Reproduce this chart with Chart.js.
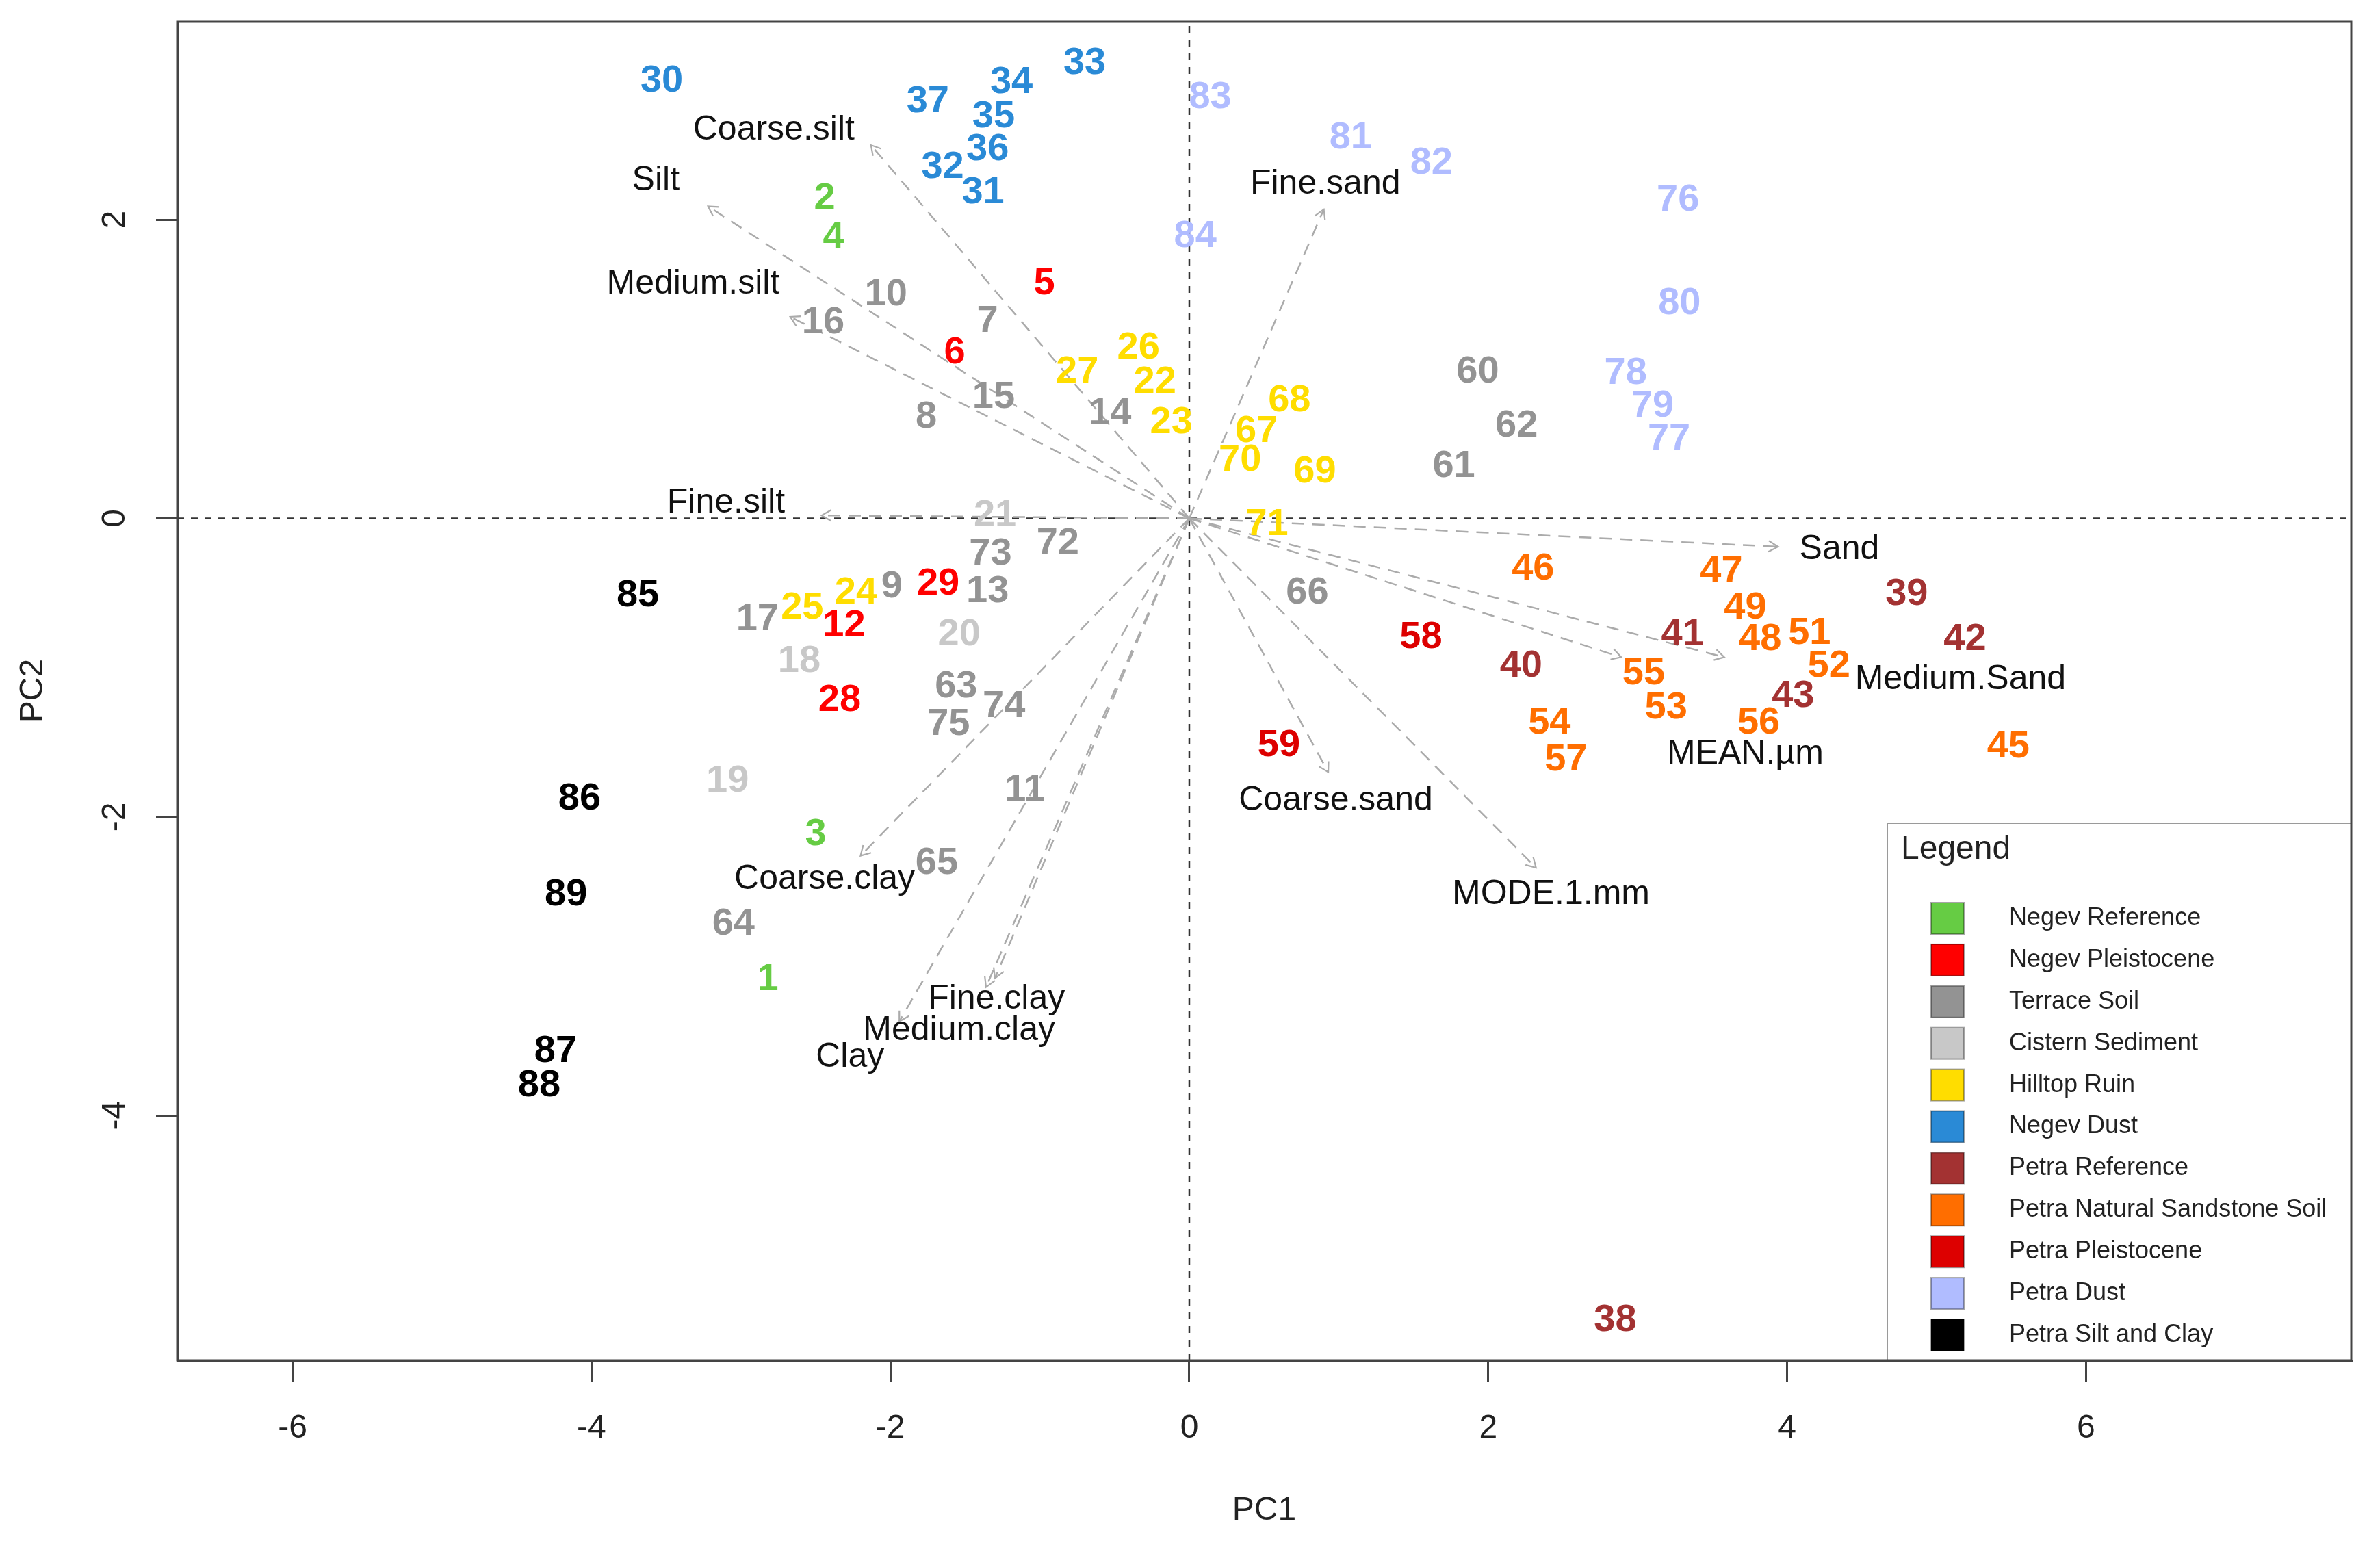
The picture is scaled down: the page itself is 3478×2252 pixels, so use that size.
<!DOCTYPE html>
<html><head><meta charset="utf-8">
<script src="https://cdn.jsdelivr.net/npm/chart.js@4.4.1/dist/chart.umd.min.js"></script>
<style>html,body{margin:0;padding:0;background:#fff;}canvas{display:block;}</style>
</head><body>
<canvas id="c" width="3478" height="2252"></canvas>
<script>
// ---------- data ----------
const groupNames = ['Negev Reference','Negev Pleistocene','Terrace Soil','Cistern Sediment','Hilltop Ruin','Negev Dust','Petra Reference','Petra Natural Sandstone Soil','Petra Pleistocene','Petra Dust','Petra Silt and Clay'];
const groupColors = ['#66CC44','#FF0000','#939393','#C8C8C8','#FFDD00','#2A8AD6','#A33232','#FF6E00','#DD0000','#B0BCFF','#000000'];

const sampleIds = [1,2,3,4,5,6,7,8,9,10,11,12,13,14,15,16,17,18,19,20,21,22,23,24,25,26,27,28,29,30,31,32,33,34,35,36,37,38,39,40,41,42,43,45,46,47,48,49,51,52,53,54,55,56,57,58,59,60,61,62,63,64,65,66,67,68,69,70,71,72,73,74,75,76,77,78,79,80,81,82,83,84,85,86,87,88,89];
const samplePC1 = [-2.82,-2.44,-2.50,-2.38,-0.97,-1.57,-1.35,-1.76,-1.99,-2.03,-1.10,-2.31,-1.35,-0.53,-1.31,-2.45,-2.89,-2.61,-3.09,-1.54,-1.30,-0.23,-0.12,-2.23,-2.59,-0.34,-0.75,-2.34,-1.68,-3.53,-1.38,-1.65,-0.70,-1.19,-1.31,-1.35,-1.75,2.85,4.80,2.22,3.30,5.19,4.04,5.48,2.30,3.56,3.82,3.72,4.15,4.28,3.19,2.41,3.04,3.81,2.52,1.55,0.60,1.93,1.77,2.19,-1.56,-3.05,-1.69,0.79,0.45,0.67,0.84,0.34,0.52,-0.88,-1.33,-1.24,-1.61,3.27,3.21,2.92,3.10,3.28,1.08,1.62,0.14,0.04,-3.69,-4.08,-4.24,-4.35,-4.17];
const samplePC2 = [-3.09,2.14,-2.12,1.88,1.57,1.11,1.32,0.68,-0.46,1.50,-1.82,-0.72,-0.49,0.70,0.81,1.31,-0.68,-0.96,-1.76,-0.78,0.02,0.91,0.64,-0.50,-0.60,1.14,0.98,-1.22,-0.44,2.93,2.18,2.35,3.05,2.92,2.69,2.47,2.79,-5.37,-0.51,-0.99,-0.78,-0.81,-1.19,-1.53,-0.34,-0.36,-0.81,-0.60,-0.77,-0.99,-1.27,-1.37,-1.04,-1.37,-1.62,-0.80,-1.52,0.98,0.35,0.62,-1.13,-2.72,-2.31,-0.50,0.58,0.79,0.31,0.39,-0.04,-0.17,-0.24,-1.26,-1.38,2.13,0.53,0.97,0.75,1.44,2.55,2.38,2.82,1.89,-0.52,-1.88,-3.57,-3.80,-2.52];
const sampleGroup = [0,0,0,0,1,1,2,2,2,2,2,1,2,2,2,2,2,3,3,3,3,4,4,4,4,4,4,1,1,5,5,5,5,5,5,5,5,6,6,6,6,6,6,7,7,7,7,7,7,7,7,7,7,7,7,8,8,2,2,2,2,2,2,2,4,4,4,4,4,2,2,2,2,9,9,9,9,9,9,9,9,9,10,10,10,10,10];

const varNames = ['Coarse.silt','Silt','Medium.silt','Fine.silt','Fine.sand','Sand','Medium.Sand','MEAN.µm','MODE.1.mm','Coarse.sand','Coarse.clay','Medium.clay','Fine.clay','Clay'];
const varTipX = [-2.13,-3.22,-2.67,-2.46,0.90,3.94,3.58,2.89,2.32,0.93,-2.20,-1.94,-1.36,-1.30];
const varTipY = [2.50,2.09,1.35,0.02,2.07,-0.19,-0.93,-0.93,-2.34,-1.70,-2.26,-3.37,-3.14,-3.08];
const varLabelX = [-2.78,-3.57,-3.32,-3.10,0.91,4.35,5.16,3.72,2.42,0.98,-2.44,-1.54,-1.29,-2.27];
const varLabelY = [2.60,2.26,1.57,0.10,2.24,-0.21,-1.08,-1.58,-2.52,-1.89,-2.42,-3.43,-3.22,-3.61];

const xTickValues = [-6,-4,-2,0,2,4,6];
const yTickValues = [-4,-2,0,2];
const xRange = [-6.772, 7.775];
const yRange = [-5.64, 3.33];

// ---------- build datasets ----------
const FONT = '"Liberation Sans", Arial, Helvetica, sans-serif';
const datasets = [];
datasets.push({kind:'ref', data:[{x:xRange[0],y:0},{x:xRange[1],y:0}], showLine:true, borderColor:'#333', borderWidth:2.5, borderDash:[10,10], pointRadius:0, order:10});
datasets.push({kind:'ref', data:[{x:0,y:yRange[0]},{x:0,y:yRange[1]}], showLine:true, borderColor:'#333', borderWidth:2.5, borderDash:[10,10], pointRadius:0, order:10});
varNames.forEach((n,i)=>{
  datasets.push({kind:'arrow', label:n, data:[{x:0,y:0},{x:varTipX[i],y:varTipY[i]}], showLine:true, borderColor:'#ABABAB', borderWidth:2.5, borderDash:[18,12], pointRadius:0, order:5});
});
datasets.push({kind:'varlabel', data:varNames.map((n,i)=>({x:varLabelX[i],y:varLabelY[i]})), texts:varNames, pointRadius:0, showLine:false, order:1});
groupNames.forEach((g,gi)=>{
  const idx = sampleIds.map((id,i)=>i).filter(i=>sampleGroup[i]===gi);
  datasets.push({kind:'sample', label:g, color:groupColors[gi], data:idx.map(i=>({x:samplePC1[i],y:samplePC2[i]})), texts:idx.map(i=>String(sampleIds[i])), pointRadius:0, showLine:false, order:0});
});

const textPlugin = {
  id:'texts',
  afterDatasetsDraw(chart){
    const ctx = chart.ctx;
    ctx.save();
    chart.data.datasets.forEach((ds,di)=>{
      const meta = chart.getDatasetMeta(di);
      if (ds.kind==='arrow'){
        const p0 = meta.data[0], p1 = meta.data[1];
        const ang = Math.atan2(p1.y-p0.y, p1.x-p0.x);
        const L = 16, a = Math.PI/6;
        ctx.setLineDash([]);
        ctx.strokeStyle = ds.borderColor; ctx.lineWidth = 2.2;
        ctx.beginPath();
        ctx.moveTo(p1.x - L*Math.cos(ang-a), p1.y - L*Math.sin(ang-a));
        ctx.lineTo(p1.x, p1.y);
        ctx.lineTo(p1.x - L*Math.cos(ang+a), p1.y - L*Math.sin(ang+a));
        ctx.stroke();
      }
    });
    ctx.textAlign='center'; ctx.textBaseline='middle';
    chart.data.datasets.forEach((ds,di)=>{
      const meta = chart.getDatasetMeta(di);
      if (ds.kind==='varlabel'){
        ctx.fillStyle='#111'; ctx.font='50px '+FONT;
        meta.data.forEach((el,i)=>ctx.fillText(ds.texts[i], el.x, el.y));
      } else if (ds.kind==='sample'){
        ctx.fillStyle=ds.color; ctx.font='bold 56px '+FONT;
        meta.data.forEach((el,i)=>ctx.fillText(ds.texts[i], el.x, el.y));
      }
    });
    ctx.restore();
  },
  afterDraw(chart){
    const ctx = chart.ctx, a = chart.chartArea;
    ctx.save();
    const lx = 2758, ly = 1203, lr = a.right, lb = a.bottom;
    ctx.fillStyle='#fff'; ctx.fillRect(lx, ly, lr-lx, lb-ly);
    ctx.strokeStyle='#9a9a9a'; ctx.lineWidth=2;
    ctx.strokeRect(lx, ly, lr-lx, lb-ly);
    ctx.fillStyle='#222'; ctx.textAlign='left'; ctx.textBaseline='middle';
    ctx.font='48px '+FONT;
    ctx.fillText('Legend', 2778, 1242);
    ctx.font='36px '+FONT;
    const step = (1951-1342)/(groupNames.length-1);
    groupNames.forEach((g,i)=>{
      const cy = 1342 + i*step;
      ctx.fillStyle=groupColors[i];
      ctx.fillRect(2822, cy-23, 48, 46);
      ctx.strokeStyle='rgba(0,0,0,0.35)'; ctx.lineWidth=2;
      ctx.strokeRect(2822, cy-23, 48, 46);
      ctx.fillStyle='#222';
      ctx.fillText(g, 2936, cy);
    });
    ctx.strokeStyle='#444'; ctx.lineWidth=3;
    ctx.strokeRect(a.left, a.top, a.right-a.left, a.bottom-a.top);
    ctx.restore();
  }
};

new Chart(document.getElementById('c'), {
  type:'scatter',
  data:{datasets},
  options:{
    responsive:false, devicePixelRatio:1, animation:false,
    layout:{padding:{top:31,right:42,left:0,bottom:0}},
    plugins:{legend:{display:false}, tooltip:{enabled:false}},
    scales:{
      x:{type:'linear', min:xRange[0], max:xRange[1],
        afterFit(s){ s.height = 2252-1988; s.paddingLeft = 0; s.paddingRight = 0; },
        afterBuildTicks(s){ s.ticks = xTickValues.map(v=>({value:v})); },
        ticks:{font:{family:FONT,size:48}, color:'#222', padding:40, maxRotation:0, minRotation:0, callback:v=>String(v)},
        grid:{drawOnChartArea:false, drawTicks:true, tickLength:31, color:'#444', lineWidth:3},
        border:{display:true, color:'#444', width:3},
        title:{display:true, text:'PC1', font:{family:FONT,size:48}, color:'#222', padding:{top:0,bottom:15}}
      },
      y:{type:'linear', min:yRange[0], max:yRange[1],
        afterFit(s){ s.width = 259; s.paddingTop = 0; s.paddingBottom = 0; },
        afterBuildTicks(s){ s.ticks = yTickValues.map(v=>({value:v})); },
        ticks:{font:{family:FONT,size:48}, color:'#222', padding:38, minRotation:90, maxRotation:90, crossAlign:'center', callback:v=>String(v)},
        grid:{drawOnChartArea:false, drawTicks:true, tickLength:31, color:'#444', lineWidth:3},
        border:{display:true, color:'#444', width:3},
        title:{display:true, text:'PC2', font:{family:FONT,size:48}, color:'#222', padding:{top:20,bottom:0}}
      }
    }
  },
  plugins:[textPlugin]
});
</script>
</body></html>
